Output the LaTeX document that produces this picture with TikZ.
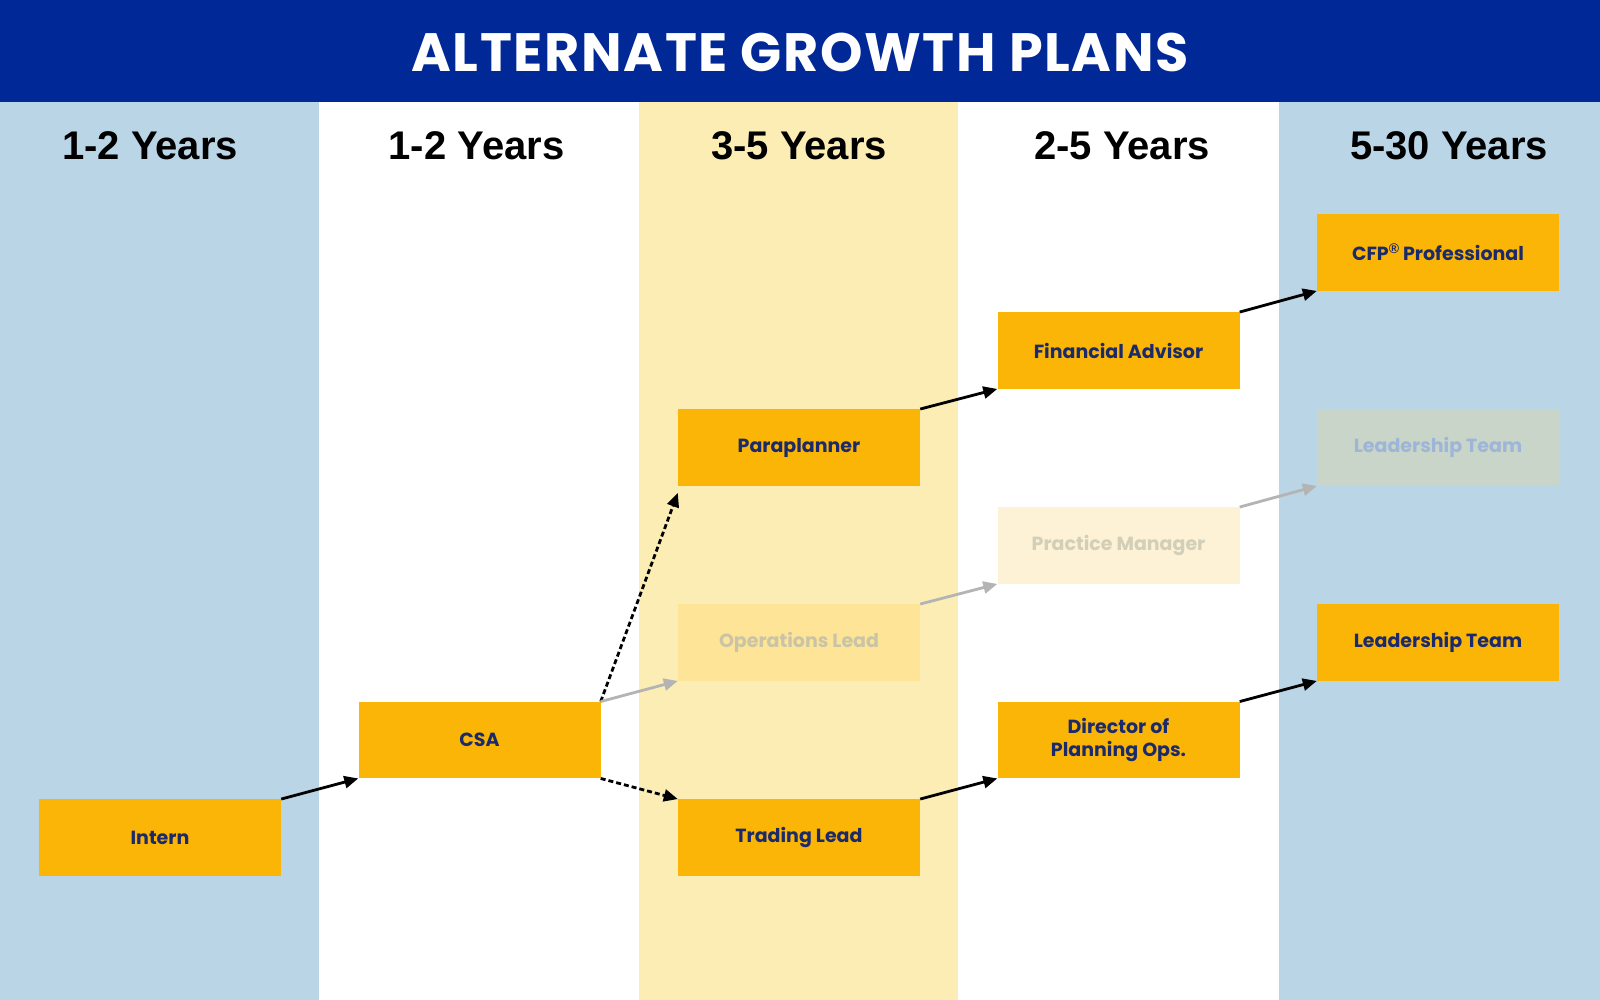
\documentclass[tikz,border=0pt]{standalone}
\usepackage{fontspec}
\setmainfont{Liberation Sans}
\newfontfamily\geo{Poppins}
\newfontfamily\geotitle{Poppins}[LetterSpace=3]
\usetikzlibrary{arrows.meta}
\definecolor{hdrblue}{HTML}{002896}
\definecolor{colblue}{HTML}{BAD5E6}
\definecolor{colyellow}{HTML}{FCEDB4}
\definecolor{boxfill}{HTML}{FBB507}
\definecolor{boxtext}{HTML}{1B2A6B}
\definecolor{opsfill}{HTML}{FDE497}
\definecolor{opstext}{HTML}{C9C4A6}
\definecolor{pmfill}{HTML}{FDF2D6}
\definecolor{pmtext}{HTML}{D2CEB8}
\definecolor{ltfill}{HTML}{C8D5C8}
\definecolor{lttext}{HTML}{9DB5D8}
\definecolor{fadearrow}{HTML}{B4B4B4}
\tikzset{
  role/.style={rectangle, fill=boxfill, minimum width=242pt, minimum height=76.5pt,
    inner sep=0pt, align=center, text=boxtext, font=\geo\bfseries\fontsize{19}{23}\selectfont},
  yearlbl/.style={font=\bfseries\fontsize{40}{44}\selectfont, text=black},
  conn/.style={line width=2.8pt, -{Triangle[length=14pt,width=12pt]}},
  dconn/.style={conn, dash pattern=on 5pt off 3pt},
  fconn/.style={conn, draw=fadearrow}
}
\begin{document}
\begin{tikzpicture}[x=1pt,y=-1pt]
\useasboundingbox (0,0) rectangle (1600,1000);
% columns
\fill[colblue] (0,0) rectangle (319.4,1000);
\fill[white] (319.4,0) rectangle (638.8,1000);
\fill[colyellow] (638.8,0) rectangle (958.2,1000);
\fill[white] (958.2,0) rectangle (1278.6,1000);
\fill[colblue] (1278.6,0) rectangle (1600,1000);
% header
\fill[hdrblue] (0,0) rectangle (1600,102);
\node[text=white, font=\geotitle\bfseries\fontsize{54}{60}\selectfont] (title) at (800,52) {ALTERNATE GROWTH PLANS};
% year labels
\node[yearlbl] (y1) at (150,146) {1-2 Years};
\node[yearlbl] (y2) at (476.5,146) {1-2 Years};
\node[yearlbl] (y3) at (799,146) {3-5 Years};
\node[yearlbl] (y4) at (1122,146) {2-5 Years};
\node[yearlbl] (y5) at (1449,146) {5-30 Years};
% roles
\node[role] (intern) at (160,837.5) {Intern};
\node[role] (csa) at (479.5,740) {CSA};
\node[role] (para) at (799,447.5) {Paraplanner};
\node[role, fill=opsfill, text=opstext] (ops) at (799,642.5) {Operations Lead};
\node[role] (trade) at (799,837.5) {Trading Lead};
\node[role] (fa) at (1118.5,350.5) {Financial Advisor};
\node[role, fill=pmfill, text=pmtext] (pm) at (1118.5,545.5) {Practice Manager};
\node[role] (dir) at (1118.5,740) {Director of\\Planning Ops.};
\node[role] (cfp) at (1438,252.5) {CFP\raisebox{0.38em}{\rmfamily\fontsize{14}{14}\selectfont\textregistered}\ Professional};
\node[role, fill=ltfill, text=lttext] (lt1) at (1438,447.5) {Leadership Team};
\node[role] (lt2) at (1438,642.5) {Leadership Team};
% connectors
\draw[conn] (intern.north east) -- (csa.south west);
\draw[dconn] (csa.north east) -- ([yshift=-7pt]para.south west);
\draw[fconn] (csa.north east) -- (ops.south west);
\draw[dconn] (csa.south east) -- (trade.north west);
\draw[conn] (para.north east) -- (fa.south west);
\draw[fconn] (ops.north east) -- (pm.south west);
\draw[conn] (trade.north east) -- (dir.south west);
\draw[conn] (fa.north east) -- (cfp.south west);
\draw[fconn] (pm.north east) -- (lt1.south west);
\draw[conn] (dir.north east) -- (lt2.south west);
\end{tikzpicture}
\end{document}
